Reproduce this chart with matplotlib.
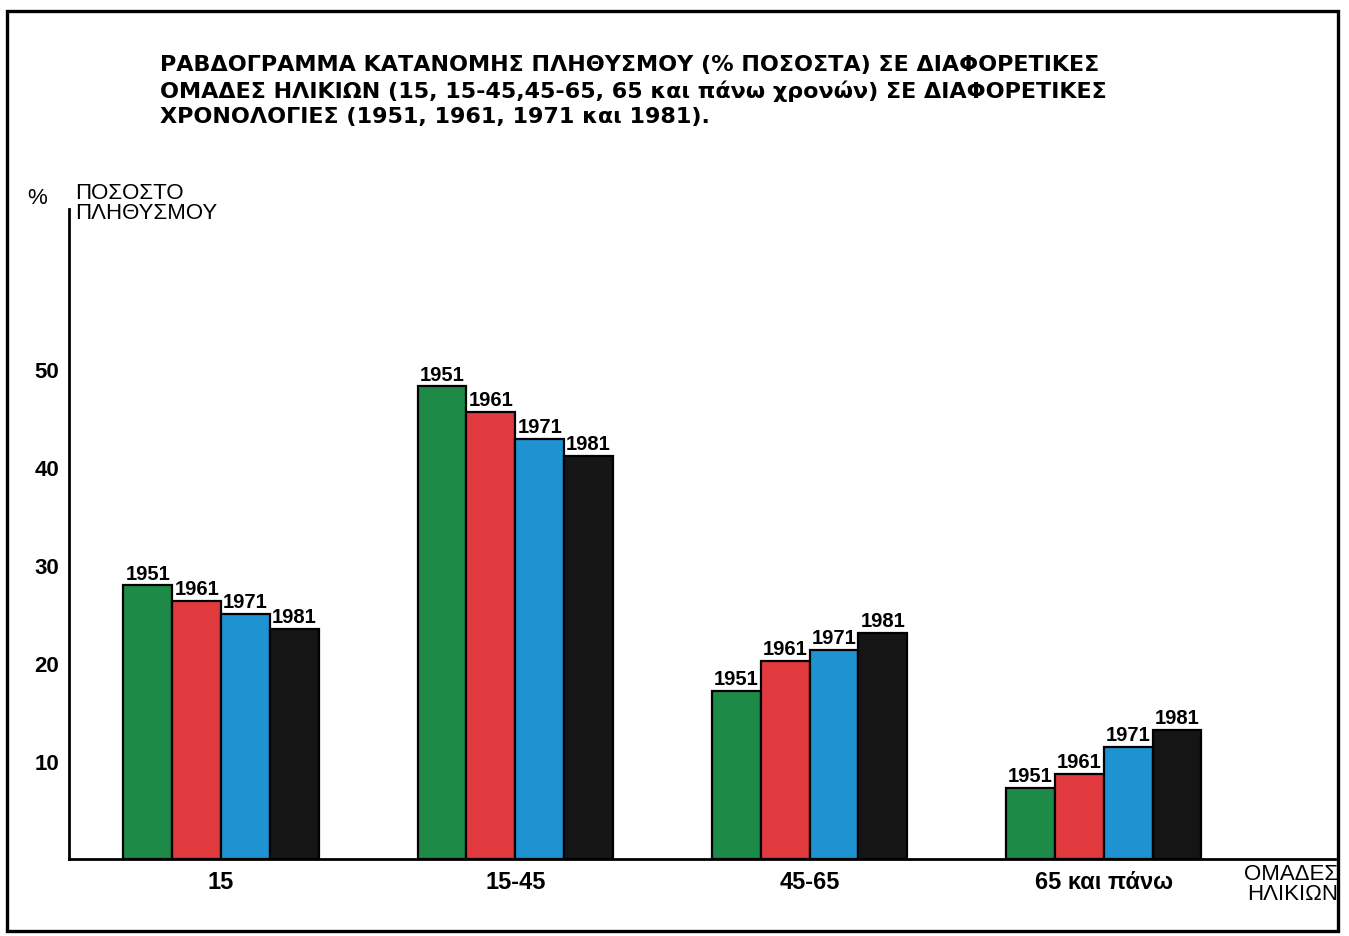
import matplotlib
matplotlib.use("Agg")
import matplotlib.pyplot as plt
from matplotlib.patches import Rectangle
import numpy as np

groups = ["15", "15-45", "45-65", "65 και πάνω"]
years = ["1951", "1961", "1971", "1981"]
values = {
    "1951": [27.9, 48.2, 17.1, 7.2],
    "1961": [26.3, 45.6, 20.2, 8.7],
    "1971": [25.0, 42.8, 21.3, 11.4],
    "1981": [23.5, 41.1, 23.1, 13.2],
}
colors = ["#1d8a48", "#e0393e", "#1f92d2", "#151515"]
yticks = [10, 20, 30, 40, 50]

title = ("ΡΑΒΔΟΓΡΑΜΜΑ ΚΑΤΑΝΟΜΗΣ ΠΛΗΘΥΣΜΟΥ (% ΠΟΣΟΣΤΑ) ΣΕ ΔΙΑΦΟΡΕΤΙΚΕΣ\n"
         "ΟΜΑΔΕΣ ΗΛΙΚΙΩΝ (15, 15-45,45-65, 65 και πάνω χρονών) ΣΕ ΔΙΑΦΟΡΕΤΙΚΕΣ\n"
         "ΧΡΟΝΟΛΟΓΙΕΣ (1951, 1961, 1971 και 1981).")

W, H = 1349, 937
fig = plt.figure(figsize=(W / 100, H / 100), dpi=100)
fig.patch.set_facecolor("white")

def fx(px):
    return px / W

def fy(py):
    return 1 - py / H

# page frame
fig.patches.append(Rectangle((fx(7), fy(932)), fx(1338) - fx(7), fy(12) - fy(932),
                             transform=fig.transFigure, fill=False,
                             edgecolor="black", linewidth=2.4))

ax = fig.add_axes([fx(69), fy(860), fx(1335) - fx(69), fy(210) - fy(860)])
ax.set_ylim(0, 66.3)
ax.set_xlim(-0.517, 3.786)

x = np.arange(len(groups))
bw = 0.166
for i, (yr, c) in enumerate(zip(years, colors)):
    pos = x + (i - 1.5) * bw
    bars = ax.bar(pos, values[yr], width=bw, color=c, edgecolor="black", linewidth=1.6)
    for b in bars:
        ax.text(b.get_x() + b.get_width() / 2, b.get_height() + 0.3, yr,
                ha="center", va="bottom", fontsize=14.5, fontweight="bold",
                family="Liberation Sans")

for s in ["top", "right"]:
    ax.spines[s].set_visible(False)
ax.spines["left"].set_linewidth(2)
ax.spines["bottom"].set_linewidth(2)
ax.set_yticks(yticks)
ax.set_yticklabels([str(t) for t in yticks], fontsize=16, fontweight="bold",
                   family="Liberation Sans")
ax.tick_params(axis="y", length=0, pad=7)
ax.set_xticks(x)
ax.set_xticklabels(groups, fontsize=17, fontweight="bold", family="Liberation Sans")
ax.tick_params(axis="x", length=0, pad=8)

fig.text(fx(160), fy(55), title, ha="left", va="top", fontsize=16,
         fontweight="heavy", family="DejaVu Sans", linespacing=1.3)

fig.text(fx(27), fy(198), "%", ha="left", va="center", fontsize=16,
         family="Liberation Sans")
fig.text(fx(75), fy(183), "ΠΟΣΟΣΤΟ\nΠΛΗΘΥΣΜΟΥ", ha="left", va="top", fontsize=16,
         family="Liberation Sans", linespacing=0.95)
fig.text(fx(1338), fy(864), "ΟΜΑΔΕΣ\nΗΛΙΚΙΩΝ", ha="right", va="top", fontsize=16,
         family="Liberation Sans", linespacing=0.95)

fig.savefig("out.png", dpi=100, facecolor="white")
